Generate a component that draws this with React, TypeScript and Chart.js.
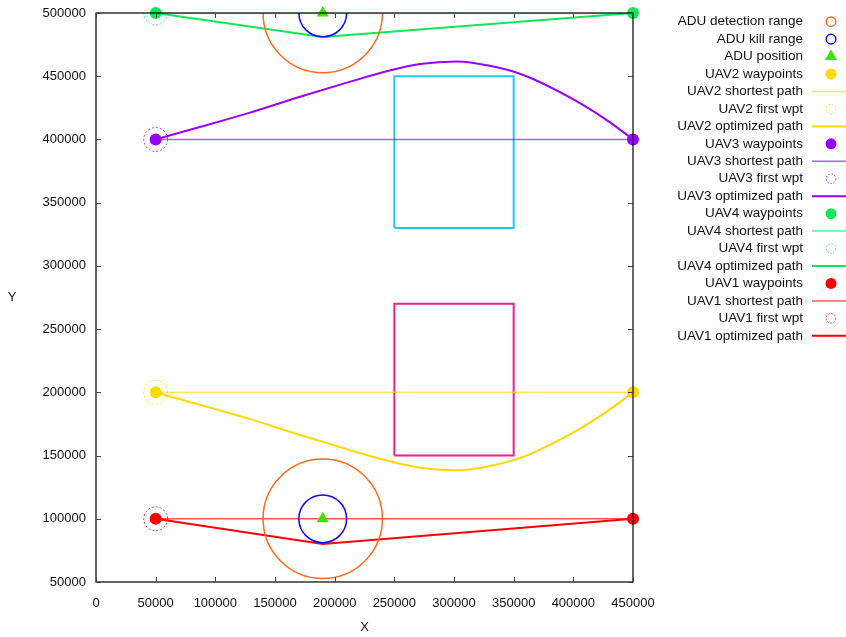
import React, { useEffect, useRef } from "react";
import { Chart, registerables } from "chart.js";

Chart.register(...registerables);

const FONT = "'Liberation Sans', Arial, Helvetica, sans-serif";

// axis ranges
const xMin = 0;
const xMax = 450000;
const yMin = 50000;
const yMax = 500000;
const tickStep = 50000;

// ADU (air defence units)
const aduX = [190000, 190000];
const aduY = [500000, 100000];
const detectionRadius = 50000;
const killRadius = 20000;
const firstWptRadius = 10000;

// UAV2
const uav2WptX = [50000, 450000];
const uav2WptY = [200000, 200000];
const uav2OptX = [50000, 87000, 129000, 171000, 213000, 246000, 271500, 302000, 330000, 358000, 400000, 428000, 450000];
const uav2OptY = [200000, 190200, 178800, 166200, 154300, 145500, 140400, 138300, 141800, 149000, 168300, 184700, 200000];

// UAV3
const uav3WptX = [50000, 450000];
const uav3WptY = [400000, 400000];
const uav3OptX = [50000, 87000, 129000, 171000, 213000, 246000, 271500, 302000, 330000, 358000, 400000, 428000, 450000];
const uav3OptY = [400000, 409800, 421200, 433800, 445700, 454500, 459600, 461700, 458200, 451000, 431700, 415300, 400000];

// UAV4
const uav4WptX = [50000, 450000];
const uav4WptY = [500000, 500000];
const uav4OptX = [50000, 190000, 450000];
const uav4OptY = [500000, 481000, 500000];

// UAV1
const uav1WptX = [50000, 450000];
const uav1WptY = [100000, 100000];
const uav1OptX = [50000, 190000, 450000];
const uav1OptY = [100000, 80000, 100000];

// obstacles (rectangles)
const obstacleX = [250000, 350000, 350000, 250000, 250000];
const obstacleTopY = [330000, 330000, 450000, 450000, 330000];
const obstacleBottomY = [150000, 150000, 270000, 270000, 150000];

const C_ORANGE = "#ff6a1c";
const C_BLUE = "#0a0aff";
const C_ADU = "#3ee000";
const C_YELLOW = "#ffd900";
const C_PURPLE = "#9a00ff";
const C_GREEN = "#0fe85a";
const C_RED = "#ff0000";
const C_CYAN = "#1fcbe8";
const C_PINK = "#f0208c";

const pts = (xs: number[], ys: number[]) => xs.map((x, i) => ({ x, y: ys[i] }));

const radiusFromX = (r: number) => (ctx: any) => {
  const s = ctx.chart.scales.x;
  if (!s) return 0;
  return Math.abs(s.getPixelForValue(r) - s.getPixelForValue(0));
};

const withAlpha = (hex: string, a: number) => {
  const n = parseInt(hex.slice(1), 16);
  return `rgba(${(n >> 16) & 255},${(n >> 8) & 255},${n & 255},${a})`;
};

function uavDatasets(name: string, color: string, wx: number[], wy: number[], ox: number[], oy: number[], curved: boolean) {
  const pale = withAlpha(color, 0.65);
  return [
    {
      label: `${name} waypoints`,
      data: pts(wx, wy),
      showLine: false,
      pointRadius: 6,
      pointBackgroundColor: color,
      pointBorderColor: color,
      pointBorderWidth: 0,
      clip: false,
      order: 1,
      keyKind: "dot",
      keyColor: color,
    },
    {
      label: `${name} shortest path`,
      data: pts(wx, wy),
      showLine: true,
      borderColor: pale,
      borderWidth: 1.5,
      pointRadius: 0,
      clip: 0,
      order: 3,
      keyKind: "line",
      keyColor: pale,
      keyWidth: 1.5,
    },
    {
      label: `${name} first wpt`,
      data: pts([wx[0]], [wy[0]]),
      showLine: false,
      pointRadius: radiusFromX(firstWptRadius),
      pointBackgroundColor: "rgba(0,0,0,0)",
      pointBorderColor: "rgba(0,0,0,0)",
      pointBorderWidth: 0,
      clip: 0,
      order: 2,
      dashedCircle: true,
      circleR: firstWptRadius,
      keyKind: "dashcircle",
      keyColor: color,
    },
    {
      label: `${name} optimized path`,
      data: pts(ox, oy),
      showLine: true,
      borderColor: color,
      borderWidth: 2,
      pointRadius: 0,
      cubicInterpolationMode: curved ? "monotone" : "default",
      tension: 0,
      clip: 0,
      order: 3,
      keyKind: "line",
      keyColor: color,
      keyWidth: 2,
    },
  ];
}

const decorPlugin = {
  id: "gnuplotDecor",
  afterDatasetsDraw(chart: any) {
    const ctx = chart.ctx as CanvasRenderingContext2D;
    const ca = chart.chartArea;
    const xs = chart.scales.x;

    // dashed circles (first waypoint)
    ctx.save();
    ctx.beginPath();
    ctx.rect(ca.left, ca.top, ca.right - ca.left, ca.bottom - ca.top);
    ctx.clip();
    chart.data.datasets.forEach((ds: any, i: number) => {
      if (!ds.dashedCircle) return;
      const meta = chart.getDatasetMeta(i);
      const r = Math.abs(xs.getPixelForValue(ds.circleR) - xs.getPixelForValue(0));
      meta.data.forEach((el: any) => {
        ctx.beginPath();
        ctx.setLineDash([2, 2]);
        ctx.strokeStyle = ds.keyColor;
        ctx.globalAlpha = 0.8;
        ctx.lineWidth = 1;
        ctx.arc(el.x, el.y, r, 0, Math.PI * 2);
        ctx.stroke();
      });
    });
    ctx.restore();
  },
  afterDraw(chart: any) {
    const ctx = chart.ctx as CanvasRenderingContext2D;
    const ca = chart.chartArea;
    const xs = chart.scales.x;
    const ys = chart.scales.y;

    // frame
    ctx.save();
    ctx.strokeStyle = "#000";
    ctx.lineWidth = 1.2;
    ctx.setLineDash([]);
    ctx.strokeRect(ca.left, ca.top, ca.right - ca.left, ca.bottom - ca.top);

    // inward ticks, mirrored
    ctx.strokeStyle = "#444";
    ctx.lineWidth = 1;
    const tl = 5;
    xs.ticks.forEach((t: any) => {
      const p = Math.round(xs.getPixelForValue(t.value)) + 0.5;
      ctx.beginPath();
      ctx.moveTo(p, ca.bottom);
      ctx.lineTo(p, ca.bottom - tl);
      ctx.moveTo(p, ca.top);
      ctx.lineTo(p, ca.top + tl);
      ctx.stroke();
    });
    ys.ticks.forEach((t: any) => {
      const p = Math.round(ys.getPixelForValue(t.value)) + 0.5;
      ctx.beginPath();
      ctx.moveTo(ca.left, p);
      ctx.lineTo(ca.left + tl, p);
      ctx.moveTo(ca.right, p);
      ctx.lineTo(ca.right - tl, p);
      ctx.stroke();
    });

    // axis titles
    ctx.fillStyle = "#111";
    ctx.font = `13px ${FONT}`;
    ctx.textAlign = "center";
    ctx.textBaseline = "middle";
    ctx.fillText("X", (ca.left + ca.right) / 2, ca.bottom + 45);
    ctx.fillText("Y", 12, (ca.top + ca.bottom) / 2);

    // legend
    const textRight = ca.right + 170;
    const keyCenter = ca.right + 198;
    const lineStart = ca.right + 179;
    const lineEnd = chart.width;
    let row = 0;
    const y0 = ca.top + 8.7;
    const dy = 17.45;
    chart.data.datasets.forEach((ds: any) => {
      if (!ds.keyKind) return;
      const y = y0 + row * dy;
      row++;
      ctx.save();
      ctx.fillStyle = "#111";
      ctx.textAlign = "right";
      ctx.textBaseline = "middle";
      ctx.font = `13.5px ${FONT}`;
      ctx.fillText(ds.label, textRight, y);
      ctx.strokeStyle = ds.keyColor;
      ctx.fillStyle = ds.keyColor;
      if (ds.keyKind === "circle") {
        ctx.lineWidth = 1.5;
        ctx.beginPath();
        ctx.arc(keyCenter, y, 4.8, 0, Math.PI * 2);
        ctx.stroke();
      } else if (ds.keyKind === "dot") {
        ctx.beginPath();
        ctx.arc(keyCenter, y, 5.5, 0, Math.PI * 2);
        ctx.fill();
      } else if (ds.keyKind === "triangle") {
        const r = 7;
        ctx.beginPath();
        ctx.moveTo(keyCenter, y - r);
        ctx.lineTo(keyCenter + r * Math.cos(Math.PI / 6), y + r / 2);
        ctx.lineTo(keyCenter - r * Math.cos(Math.PI / 6), y + r / 2);
        ctx.closePath();
        ctx.fill();
      } else if (ds.keyKind === "line") {
        ctx.lineWidth = ds.keyWidth;
        ctx.beginPath();
        ctx.moveTo(lineStart, y);
        ctx.lineTo(lineEnd, y);
        ctx.stroke();
      } else if (ds.keyKind === "dashcircle") {
        ctx.lineWidth = 1;
        ctx.globalAlpha = 0.8;
        ctx.setLineDash([1.6, 1.6]);
        ctx.beginPath();
        ctx.arc(keyCenter, y, 4.8, 0, Math.PI * 2);
        ctx.stroke();
      }
      ctx.restore();
    });
    ctx.restore();
  },
};

export default function App() {
  const ref = useRef<HTMLCanvasElement | null>(null);

  useEffect(() => {
    if (!ref.current) return;
    const datasets: any[] = [
      {
        label: "ADU detection range",
        data: pts(aduX, aduY),
        showLine: false,
        pointRadius: radiusFromX(detectionRadius),
        pointBackgroundColor: "rgba(0,0,0,0)",
        pointBorderColor: C_ORANGE,
        pointBorderWidth: 1.5,
        clip: 0,
        order: 2,
        keyKind: "circle",
        keyColor: C_ORANGE,
      },
      {
        label: "ADU kill range",
        data: pts(aduX, aduY),
        showLine: false,
        pointRadius: radiusFromX(killRadius),
        pointBackgroundColor: "rgba(0,0,0,0)",
        pointBorderColor: C_BLUE,
        pointBorderWidth: 1.5,
        clip: 0,
        order: 2,
        keyKind: "circle",
        keyColor: C_BLUE,
      },
      {
        label: "ADU position",
        data: pts(aduX, aduY),
        showLine: false,
        pointStyle: "triangle",
        pointRadius: 7,
        pointBackgroundColor: C_ADU,
        pointBorderColor: C_ADU,
        pointBorderWidth: 0,
        clip: false,
        order: 0,
        keyKind: "triangle",
        keyColor: C_ADU,
      },
      ...uavDatasets("UAV2", C_YELLOW, uav2WptX, uav2WptY, uav2OptX, uav2OptY, true),
      ...uavDatasets("UAV3", C_PURPLE, uav3WptX, uav3WptY, uav3OptX, uav3OptY, true),
      ...uavDatasets("UAV4", C_GREEN, uav4WptX, uav4WptY, uav4OptX, uav4OptY, false),
      ...uavDatasets("UAV1", C_RED, uav1WptX, uav1WptY, uav1OptX, uav1OptY, false),
      {
        label: "",
        data: pts(obstacleX, obstacleTopY),
        showLine: true,
        borderColor: C_CYAN,
        borderWidth: 2,
        pointRadius: 0,
        clip: false,
        order: 5,
      },
      {
        label: "",
        data: pts(obstacleX, obstacleBottomY),
        showLine: true,
        borderColor: C_PINK,
        borderWidth: 2,
        pointRadius: 0,
        clip: false,
        order: 5,
      },
    ];

    const tickFont = { family: FONT, size: 13 };
    const chart = new Chart(ref.current, {
      type: "scatter",
      data: { datasets },
      options: {
        responsive: false,
        maintainAspectRatio: false,
        animation: false,
        events: [],
        layout: { padding: { left: 0, right: 213, top: 13, bottom: 0 } },
        plugins: {
          legend: { display: false },
          tooltip: { enabled: false },
        },
        scales: {
          x: {
            type: "linear",
            min: xMin,
            max: xMax,
            grid: { display: false, drawTicks: false },
            border: { display: false },
            afterFit: (s: any) => {
              s.height = 55;
              s.paddingLeft = 0;
              s.paddingRight = 0;
            },
            ticks: {
              stepSize: tickStep,
              padding: 14,
              color: "#111",
              font: tickFont,
              maxRotation: 0,
              autoSkip: false,
              callback: (v: any) => String(v),
            },
          },
          y: {
            type: "linear",
            min: yMin,
            max: yMax,
            grid: { display: false, drawTicks: false },
            border: { display: false },
            afterFit: (s: any) => {
              s.width = 96;
              s.paddingTop = 0;
              s.paddingBottom = 0;
            },
            ticks: {
              stepSize: tickStep,
              padding: 10,
              color: "#111",
              font: tickFont,
              autoSkip: false,
              callback: (v: any) => String(v),
            },
          },
        },
      } as any,
      plugins: [decorPlugin],
    });
    return () => chart.destroy();
  }, []);

  return (
    <div style={{ position: "absolute", left: 0, top: 0, width: 846, height: 637, background: "#fff" }}>
      <canvas ref={ref} width={846} height={637} style={{ display: "block", width: 846, height: 637 }} />
    </div>
  );
}
